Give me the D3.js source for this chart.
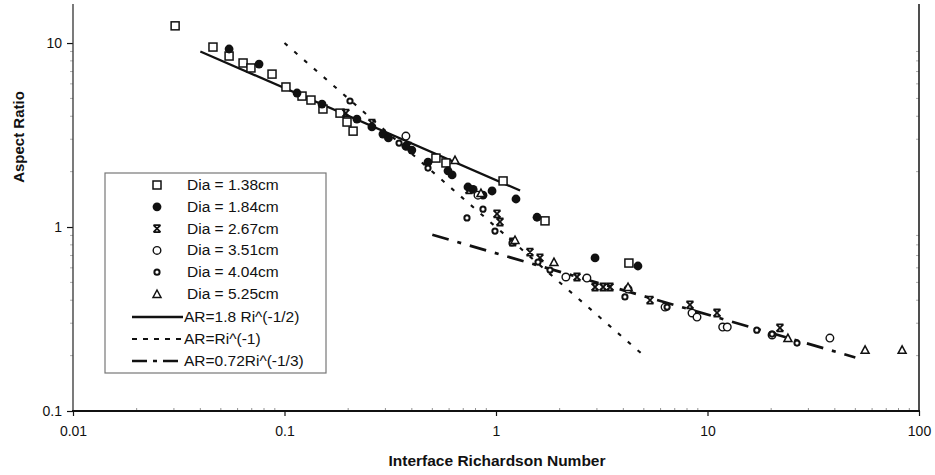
<!DOCTYPE html>
<html><head><meta charset="utf-8">
<script src="https://cdn.jsdelivr.net/npm/d3@7"></script>
<style>body{margin:0;background:#fff}svg{display:block}text{font-family:"Liberation Sans",Arial,sans-serif;fill:#111}</style>
</head><body><svg id="c" width="935" height="475"></svg>
<script>
// ---- data (Ri, Aspect Ratio) ----
const dia138 = [[0.0304,12.4],[0.0459,9.51],[0.0547,8.50],[0.0637,7.79],[0.0694,7.32],[0.0873,6.78],[0.1016,5.77],[0.121,5.15],[0.1334,4.90],[0.152,4.38],[0.183,4.16],[0.1975,3.72],[0.211,3.32],[0.520,2.37],[0.580,2.23],[1.08,1.78],[1.705,1.08],[4.25,0.637]];
const dia184 = [[0.0547,9.28],[0.0758,7.69],[0.1146,5.35],[0.1504,4.66],[0.220,3.86],[0.259,3.50],[0.292,3.20],[0.31,3.05],[0.375,2.75],[0.40,2.62],[0.477,2.25],[0.593,2.02],[0.62,1.92],[0.737,1.65],[0.78,1.60],[0.868,1.49],[0.958,1.57],[1.243,1.42],[1.563,1.13],[2.94,0.679],[4.69,0.614]];
const dia267 = [[0.195,4.16],[0.259,3.67],[0.384,2.75],[0.745,1.59],[1.011,1.18],[1.044,1.065],[1.20,0.829],[1.447,0.731],[1.614,0.679],[2.415,0.535],[2.94,0.472],[3.21,0.472],[3.46,0.472],[5.35,0.401],[8.26,0.377],[11.09,0.341],[22.0,0.283]];
const dia351 = [[0.375,3.12],[0.822,1.49],[2.14,0.535],[2.69,0.528],[4.21,0.460],[6.30,0.367],[8.45,0.341],[8.92,0.324],[11.8,0.286],[12.4,0.286],[20.2,0.259],[37.9,0.249]];
const dia404 = [[0.204,4.84],[0.348,2.86],[0.477,2.09],[0.729,1.12],[0.868,1.25],[0.989,0.951],[1.19,0.819],[1.58,0.645],[1.80,0.584],[4.07,0.417],[6.44,0.367],[17.1,0.275],[20.2,0.262],[26.5,0.234]];
const dia525 = [[0.640,2.31],[0.849,1.53],[1.23,0.850],[1.88,0.645],[4.21,0.472],[24.0,0.249],[55.6,0.215],[83.2,0.215]];
const seriesNames = ["Dia = 1.38cm","Dia = 1.84cm","Dia = 2.67cm","Dia = 3.51cm","Dia = 4.04cm","Dia = 5.25cm"];
const fitNames = ["AR=1.8 Ri^(-1/2)","AR=Ri^(-1)","AR=0.72Ri^(-1/3)"];
const fitCoef = [1.8, 1, 0.72];
const fitExp = [-0.5, -1, -1/3];
const fitRange = [[0.04,1.3],[0.1,5],[0.5,50]];
const xTicks = [0.01,0.1,1,10,100];
const xTickLabels = ["0.01","0.1","1","10","100"];
const yTicks = [0.1,1,10];
const yTickLabels = ["0.1","1","10"];

const svg = d3.select("#c");
const L=73, R=919, T=4, B=411;
const x = d3.scaleLog().domain([0.01,100]).range([L,R]);
const y = d3.scaleLog().domain([0.1,16.3]).range([B,T]);

// minor ticks
const minors=[];
for(let e=-2;e<2;e++) for(let k=2;k<10;k++) minors.push(k*Math.pow(10,e));
const yMinors=[];
for(let e=-1;e<2;e++) for(let k=2;k<10;k++){const v=k*Math.pow(10,e); if(v<16.3) yMinors.push(v);}
svg.append("g").selectAll("line").data(minors).join("line")
  .attr("x1",d=>x(d)).attr("x2",d=>x(d)).attr("y1",B).attr("y2",B-3)
  .attr("stroke","#777").attr("stroke-width",0.8);
svg.append("g").selectAll("line").data(yMinors).join("line")
  .attr("x1",L-3).attr("x2",L).attr("y1",d=>y(d)).attr("y2",d=>y(d))
  .attr("stroke","#999").attr("stroke-width",0.8);
svg.append("g").selectAll("line").data(yMinors).join("line")
  .attr("x1",R).attr("x2",R-3).attr("y1",d=>y(d)).attr("y2",d=>y(d))
  .attr("stroke","#999").attr("stroke-width",0.8);

// axes
const xAxis = d3.axisBottom(x).tickValues(xTicks).tickFormat((d,i)=>xTickLabels[i]).tickSize(5).tickPadding(10);
const gx = svg.append("g").attr("transform",`translate(0,${B})`).call(xAxis);
gx.select(".domain").remove();
gx.selectAll("line").attr("stroke","#111").attr("stroke-width",1.2);
gx.selectAll("text").attr("font-size",14).attr("fill","#111").style("font-family","Liberation Sans, Arial");
const yAxis = d3.axisLeft(y).tickValues(yTicks).tickFormat((d,i)=>yTickLabels[i]).tickSize(6).tickPadding(5);
const gy = svg.append("g").attr("transform",`translate(${L},0)`).call(yAxis);
gy.select(".domain").remove();
gy.selectAll("line").attr("stroke","#111").attr("stroke-width",1.2);
gy.selectAll("text").attr("font-size",14).attr("fill","#111").style("font-family","Liberation Sans, Arial");

svg.append("line").attr("x1",L).attr("x2",L).attr("y1",T).attr("y2",B).attr("stroke","#333").attr("stroke-width",1.3);
svg.append("line").attr("x1",R).attr("x2",R).attr("y1",T).attr("y2",B).attr("stroke","#222").attr("stroke-width",1.6);
svg.append("line").attr("x1",L-1).attr("x2",R+1).attr("y1",B).attr("y2",B).attr("stroke","#111").attr("stroke-width",1.8);

// titles
svg.append("text").attr("x",497).attr("y",466).attr("text-anchor","middle")
  .attr("font-size",15.5).attr("font-weight","bold").text("Interface Richardson Number");
svg.append("text").attr("transform","translate(24,137) rotate(-90)").attr("text-anchor","middle")
  .attr("font-size",15).attr("font-weight","bold").text("Aspect Ratio");

// fit lines
const fitStyles=[{w:2.3,dash:null},{w:2.1,dash:"4,9"},{w:2.7,dash:"17,9,4,9"}];
fitCoef.forEach((c,i)=>{
  const [a,b]=fitRange[i];
  svg.append("line")
    .attr("x1",x(a)).attr("y1",y(c*Math.pow(a,fitExp[i])))
    .attr("x2",x(b)).attr("y2",y(c*Math.pow(b,fitExp[i])))
    .attr("stroke","#111").attr("stroke-width",fitStyles[i].w)
    .attr("stroke-dasharray",fitStyles[i].dash);
});

// marker drawing
function marker(g,type){
  if(type===0) g.append("rect").attr("x",-4).attr("y",-4).attr("width",8).attr("height",8).attr("fill","#fff").attr("stroke","#111").attr("stroke-width",1.5);
  else if(type===1) g.append("circle").attr("r",4.4).attr("fill","#111");
  else if(type===2) g.append("path").attr("d","M-3.5,-3.5L3.5,3.5M3.5,-3.5L-3.5,3.5M-3.5,-3.5H3.5M-3.5,3.5H3.5").attr("fill","none").attr("stroke","#111").attr("stroke-width",1.8);
  else if(type===3) g.append("circle").attr("r",3.8).attr("fill","#fff").attr("stroke","#111").attr("stroke-width",1.4);
  else if(type===4) g.append("circle").attr("r",2.6).attr("fill","#fff").attr("stroke","#111").attr("stroke-width",2);
  else g.append("path").attr("d","M0,-4L4,3.5L-4,3.5Z").attr("fill","#fff").attr("stroke","#111").attr("stroke-width",1.5);
}
const allSeries=[dia138,dia184,dia267,dia351,dia404,dia525];
allSeries.forEach((s,i)=>{
  svg.append("g").selectAll("g").data(s).join("g")
    .attr("transform",d=>`translate(${x(d[0])},${y(d[1])})`)
    .each(function(){marker(d3.select(this),i);});
});

// legend
const lg=svg.append("g");
lg.append("rect").attr("x",105).attr("y",173).attr("width",221).attr("height",200)
  .attr("fill","#fff").attr("stroke","#777").attr("stroke-width",1.2);
seriesNames.forEach((n,i)=>{
  const cy=185+i*21.8;
  const g=lg.append("g").attr("transform",`translate(157,${cy})`);
  marker(g,i);
  lg.append("text").attr("x",187).attr("y",cy+5).attr("font-size",15.5).text(n);
});
fitNames.forEach((n,i)=>{
  const cy=317+i*22;
  lg.append("line").attr("x1",132).attr("x2",183).attr("y1",cy).attr("y2",cy)
    .attr("stroke","#111").attr("stroke-width",fitStyles[i].w)
    .attr("stroke-dasharray",i===0?null:(i===1?"5,6":"15,6,4,6"));
  lg.append("text").attr("x",184).attr("y",cy+5).attr("font-size",15.5).text(n);
});
</script></body></html>
